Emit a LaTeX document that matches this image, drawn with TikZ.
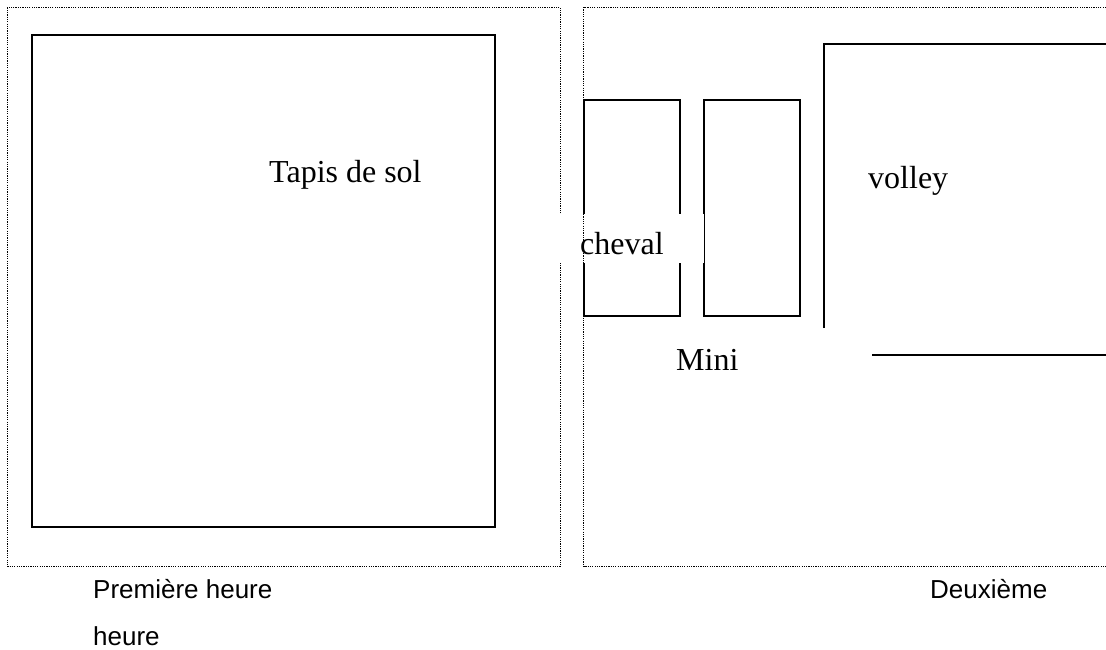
\documentclass[tikz,border=0pt]{standalone}
\usepackage{fontspec}
\setmainfont{Liberation Serif}
\newfontfamily\labelfont{Liberation Sans}
\tikzset{
  mat/.style={draw, line width=2pt, rectangle, inner sep=0pt, outer sep=0pt, anchor=north west},
  frameline/.style={line width=1.3pt, dash pattern=on 1.2pt off 1.1pt},
  gymtext/.style={anchor=base west, inner sep=0pt, font=\fontsize{32}{32}\selectfont},
  hourtext/.style={anchor=base west, inner sep=0pt, font=\labelfont\fontsize{26}{26}\selectfont}
}

\begin{document}
\begin{tikzpicture}[x=1pt, y=-1pt]
  \useasboundingbox (0,0) rectangle (1106,650);
  \draw[frameline] (7.5,7.5) rectangle (560.5,566.5);
  \node[mat, minimum width=463pt, minimum height=492pt] (tapis) at (32,35) {};
  \node[mat, minimum width=96pt, minimum height=216pt] (miniA) at (584,100) {};
  \node[mat, minimum width=96pt, minimum height=216pt] (miniB) at (704,100) {};
  \draw[line width=2pt] (824,328) -- (824,44) -- (1106,44);
  \draw[line width=2pt] (872,355) -- (1106,355);
  % white patch behind the text
  \fill[white] (557,214) rectangle (703.5,263);
  \draw[frameline] (1106,7.5) -- (583.5,7.5) -- (583.5,566.5) -- (1106,566.5);
  \node[gymtext] (tapistext) at (269,182.5) {Tapis de sol};
  \node[gymtext] (volley) at (868,189) {volley};
  \node[gymtext] (cheval) at (580,254) {cheval};
  \node[gymtext] (mini) at (676,370) {Mini};
  \node[hourtext] (premiere) at (93,598) {Première heure};
  \node[hourtext] (heure) at (93,645) {heure};
  \node[hourtext] (deuxieme) at (930,598) {Deuxième};
\end{tikzpicture}
\end{document}
